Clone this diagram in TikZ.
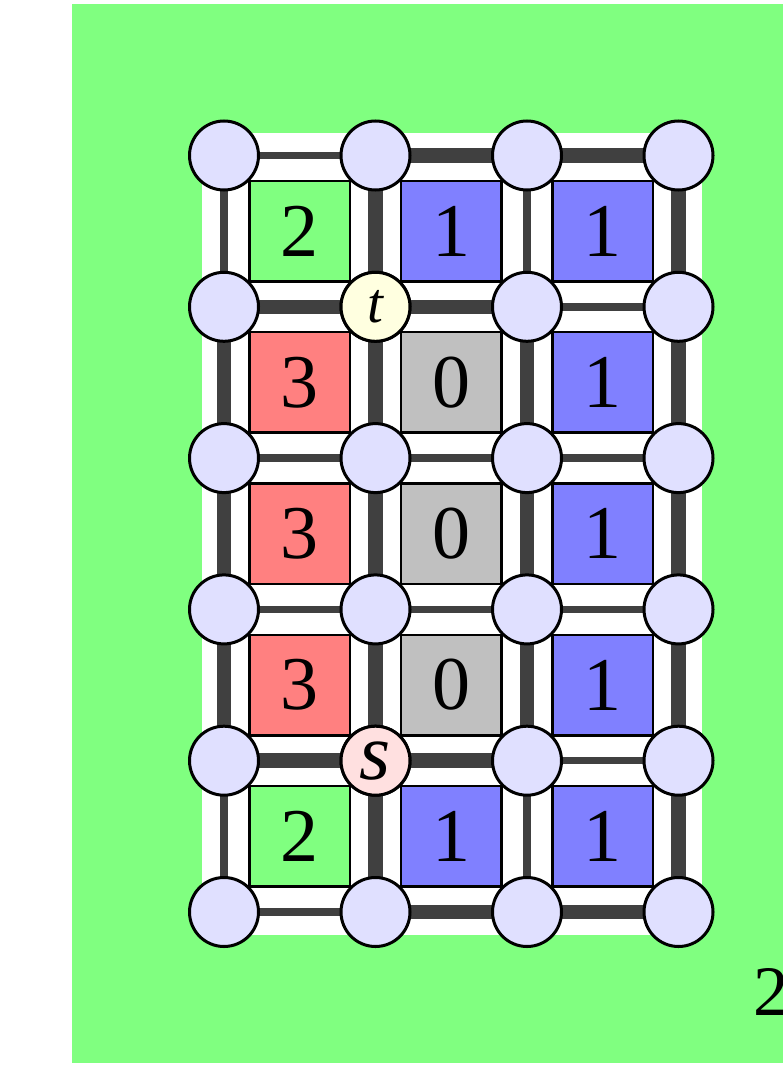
\documentclass[tikz,border=0pt]{standalone}
\usepackage{fontspec}
\setmainfont{Liberation Serif}
\usepackage{xcolor}
\usepackage{tikz}
\usetikzlibrary{backgrounds}
\definecolor{gridgreen}{HTML}{80FF80}
\definecolor{gridblue}{HTML}{8080FF}
\definecolor{gridred}{HTML}{FF8080}
\definecolor{gridgray}{HTML}{C0C0C0}
\definecolor{edgedark}{HTML}{404040}
\definecolor{vertexfill}{HTML}{E0E0FF}
\definecolor{tfill}{HTML}{FFFFE0}
\definecolor{sfill}{HTML}{FFE0E0}
\tikzset{
  gvertex/.style={circle, draw=black, line width=3pt, fill=vertexfill, minimum size=69pt, inner sep=0pt},
  gface/.style={rectangle, draw=black, line width=2.5pt, minimum size=100.5pt, inner sep=0pt, font=\fontsize{76}{76}\selectfont},
  gthick/.style={edgedark, line width=14.5pt},
  gthin/.style={edgedark, line width=7.5pt},
  glabel/.style={font=\fontsize{57}{57}\selectfont\itshape},
}

\begin{document}
\begin{tikzpicture}[x=1pt, y=-1pt]
    \useasboundingbox (0,0) rectangle (782,1067);
    % faces
    \foreach \c/\r/\col/\val in {0/0/gridgreen/2, 1/0/gridblue/1, 2/0/gridblue/1,
        0/1/gridred/3, 1/1/gridgray/0, 2/1/gridblue/1,
        0/2/gridred/3, 1/2/gridgray/0, 2/2/gridblue/1,
        0/3/gridred/3, 1/3/gridgray/0, 2/3/gridblue/1,
        0/4/gridgreen/2, 1/4/gridblue/1, 2/4/gridblue/1}
      \node[gface, fill=\col] (f-\c-\r) at ({224+151.5*(\c+0.5)},{155.5+151.3*(\r+0.5)}) {\val};
    % vertices
    \foreach \c in {0,...,3}
      \foreach \r in {0,...,5}
        \node[gvertex] (v-\c-\r) at ({224+151.5*\c},{155.5+151.3*\r}) {};
    \node[gvertex, fill=tfill, glabel] (t) at (v-1-1) {t};
    \node[gvertex, fill=sfill, glabel, font=\fontsize{80}{80}\selectfont\itshape] (s) at (v-1-4) {s};
    \node[font=\fontsize{71}{71}\selectfont, anchor=base west, inner sep=0pt] (pagenum) at (753,1015) {2};
    \begin{scope}[on background layer]
      \fill[gridgreen] (72,4) rectangle (800,1063);
      \fill[white] ([shift={(-22.5,-22.5)}]v-0-0.center) rectangle ([shift={(23,23)}]v-3-5.center);
      \foreach \a/\b in {1-0/2-0, 2-0/3-0, 0-1/1-1, 1-1/2-1, 0-4/1-4, 1-4/2-4, 1-5/2-5, 2-5/3-5,
          0-1/0-2, 0-2/0-3, 0-3/0-4, 1-0/1-1, 1-1/1-2, 1-2/1-3, 1-3/1-4, 1-4/1-5,
          2-1/2-2, 2-2/2-3, 2-3/2-4, 3-0/3-1, 3-1/3-2, 3-2/3-3, 3-3/3-4, 3-4/3-5}
        \draw[gthick] (v-\a.center) -- (v-\b.center);
      \foreach \a/\b in {0-0/1-0, 2-1/3-1, 0-2/1-2, 1-2/2-2, 2-2/3-2, 0-3/1-3, 1-3/2-3, 2-3/3-3,
          2-4/3-4, 0-5/1-5, 0-0/0-1, 0-4/0-5, 2-0/2-1, 2-4/2-5}
        \draw[gthin] (v-\a.center) -- (v-\b.center);
    \end{scope}
  \end{tikzpicture}
\end{document}
